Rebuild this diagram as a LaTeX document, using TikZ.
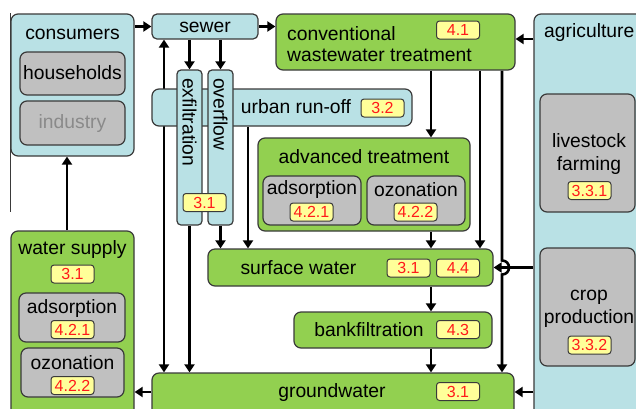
\documentclass[tikz,border=0pt]{standalone}
\usepackage{fontspec}
\setmainfont{Liberation Sans}
\usetikzlibrary{arrows.meta,fit}
\definecolor{lblue}{HTML}{B9E1E5}
\definecolor{lgreen}{HTML}{92D050}
\definecolor{lgray}{HTML}{C0C0C0}
\definecolor{tagyel}{HTML}{FFFF99}
\definecolor{edgec}{HTML}{3A3A3A}
\definecolor{tagred}{HTML}{FF1A1A}
\definecolor{indgray}{HTML}{8A8A8A}
\pgfdeclarelayer{bottom}
\pgfdeclarelayer{back}
\pgfsetlayers{bottom,back,main}
\tikzset{
  basebox/.style={draw=edgec, line width=1.2pt, rounded corners=7pt, inner sep=0pt},
  bluebox/.style={basebox, fill=lblue},
  greenbox/.style={basebox, fill=lgreen},
  graybox/.style={basebox, fill=lgray},
  txt/.style={font=\fontsize{19.3}{21}\selectfont, inner sep=0pt},
  txtb/.style={font=\fontsize{19.3}{23}\selectfont, inner sep=0pt, align=center},
  tagbox/.style={draw=edgec, line width=1pt, fill=tagyel, rounded corners=3pt,
    minimum width=43pt, minimum height=18pt, inner sep=0pt, text=tagred,
    font=\fontsize{16}{16}\selectfont},
  arr/.style={line width=2.6pt, -{Triangle[length=8pt,width=10pt]}},
  arrtwo/.style={line width=2.6pt, {Triangle[length=8pt,width=10pt]}-{Triangle[length=8pt,width=10pt]}}
}
\begin{document}
\begin{tikzpicture}[x=1pt,y=-1pt]
\useasboundingbox (0,0) rectangle (636,408);
\begin{pgfonlayer}{bottom}
\fill[white] (0,0) rectangle (636,408);
\end{pgfonlayer}
\clip (0,0) rectangle (636,408);
\draw[edgec, line width=0.8pt] (10.5,13) -- (10.5,212);

% boxes
\node[bluebox, fit={(11,14) (134,156)}] (consumers) {};
\node[graybox, fit={(20,52) (125,95)}] (hh) {};
\node[graybox, fit={(20,101) (125,145)}] (ind) {};
\node[bluebox, rounded corners=5pt, fit={(152,14) (258,39)}] (sewer) {};
\node[greenbox, fit={(276,14) (515,70)}] (conv) {};
\node[bluebox, fit={(534,14) (680,440)}] (agri) {};
\node[graybox, fit={(540,94) (635,212)}] (live) {};
\node[graybox, fit={(540,248) (635,366)}] (crop) {};
\node[bluebox, fit={(152,89) (412,126)}] (urban) {};
\node[bluebox, rounded corners=4pt, fit={(177,70) (202,225)}] (exfil) {};
\node[bluebox, rounded corners=4pt, fit={(208,70) (233,225)}] (over) {};
\node[greenbox, fit={(258,138) (470,231)}] (adv) {};
\node[graybox, fit={(263,176) (361,225)}] (advads) {};
\node[graybox, fit={(367,176) (465,225)}] (advozo) {};
\node[greenbox, fit={(208,249) (493,286)}] (surface) {};
\node[greenbox, fit={(294,312) (492,348)}] (bank) {};
\node[greenbox, fit={(152,373) (514,440)}] (gw) {};
\node[greenbox, fit={(11,231) (134,440)}] (ws) {};
\node[graybox, fit={(19,293) (125,342)}] (wsads) {};
\node[graybox, fit={(21,348) (124,397)}] (wsozo) {};

% texts
\node[txt] (tcons) at (72.5,34) {consumers};
\node[txt] (thh) at (72.5,73) {households};
\node[txt, text=indgray] (tind) at (72.5,124) {industry};
\node[txt] (tsew) at (205,27) {sewer};
\node[txt, align=left, anchor=west] (tconv) at (287,44) {conventional\\wastewater treatment};
\node[tagbox] (t41) at (458,30) {4.1};
\node[txt, anchor=west] (tagri) at (544,33) {agriculture};
\node[txtb] (tlive) at (589,154) {livestock\\farming};
\node[tagbox] (t331) at (589.5,190.5) {3.3.1};
\node[txtb] (tcrop) at (589,308.5) {crop\\production};
\node[tagbox] (t332) at (589.5,345) {3.3.2};
\node[txt] (turb) at (296,107) {urban run-off};
\node[tagbox] (t32) at (382.5,108) {3.2};
\node[txt, rotate=-90, anchor=west] (texf) at (189.5,78) {exfiltration};
\node[txt, rotate=-90, anchor=west] (tove) at (220.5,78) {overflow};
\node[tagbox] (t31a) at (204.5,202.5) {3.1};
\node[txt] (tadv) at (364,157) {advanced treatment};
\node[txt] (tads1) at (312,190) {adsorption};
\node[tagbox] (t421a) at (311.5,212) {4.2.1};
\node[txt] (tozo1) at (416,190) {ozonation};
\node[tagbox] (t422a) at (415.5,212) {4.2.2};
\node[txt] (tsurf) at (298.5,268) {surface water};
\node[tagbox] (t31b) at (408.5,268) {3.1};
\node[tagbox] (t44) at (458,268) {4.4};
\node[txt] (tbank) at (369,330) {bankfiltration};
\node[tagbox] (t43) at (458,329.5) {4.3};
\node[txt] (tgw) at (332,392) {groundwater};
\node[tagbox] (t31c) at (458,391.5) {3.1};
\node[txt] (tws) at (72.5,250) {water supply};
\node[tagbox] (t31d) at (72.5,274) {3.1};
\node[txt] (twsa) at (72,308) {adsorption};
\node[tagbox] (t421b) at (72.5,329.5) {4.2.1};
\node[txt] (twso) at (72.5,363) {ozonation};
\node[tagbox] (t422b) at (72.5,385.5) {4.2.2};

% lane coordinates
\coordinate (xA) at (164,0);
\coordinate (xB) at (248,0);
\coordinate (xC) at (431,0);
\coordinate (xD) at (480,0);
\coordinate (xE) at (502,0);
\coordinate (xF) at (67,0);
\coordinate (yA) at (0,39);
\coordinate (yB) at (0,392);
\coordinate (hop1) at (502,260.5);
\coordinate (hop2) at (502,274.5);

\begin{pgfonlayer}{back}
\draw[arr] (consumers.east |- sewer.center) -- (sewer.west);
\draw[arr] (sewer.east) -- (sewer.east -| conv.west);
\draw[arr] (agri.west |- yA) -- (conv.east |- yA);
\draw[arr] (sewer.south -| exfil.north) -- (exfil.north);
\draw[arr] (sewer.south -| over.north) -- (over.north);
\draw[arrtwo] (sewer.south -| xA) -- (gw.north -| xA);
\draw[arr] (exfil.south) -- (exfil.south |- gw.north);
\draw[arr] (over.south) -- (over.south |- surface.north);
\draw[arr] (urban.south -| xB) -- (surface.north -| xB);
\draw[arr] (conv.south -| xC) -- (adv.north -| xC);
\draw[arr] (adv.south -| xC) -- (surface.north -| xC);
\draw[arr] (surface.south -| xC) -- (bank.north -| xC);
\draw[arr] (bank.south -| xC) -- (gw.north -| xC);
\draw[arr] (conv.south -| xD) -- (surface.north -| xD);
\draw[arr] (conv.south -| xE) -- (hop1) .. controls (511.3,260.5) and (511.3,274.5) .. (hop2) -- (gw.north -| xE);
\draw[arr] (agri.west |- surface.east) -- (surface.east);
\draw[arr] (agri.west |- yB) -- (gw.east |- yB);
\draw[arr] (gw.west |- yB) -- (ws.east |- yB);
\draw[arr] (ws.north -| xF) -- (consumers.south -| xF);
\end{pgfonlayer}
\end{tikzpicture}
\end{document}
